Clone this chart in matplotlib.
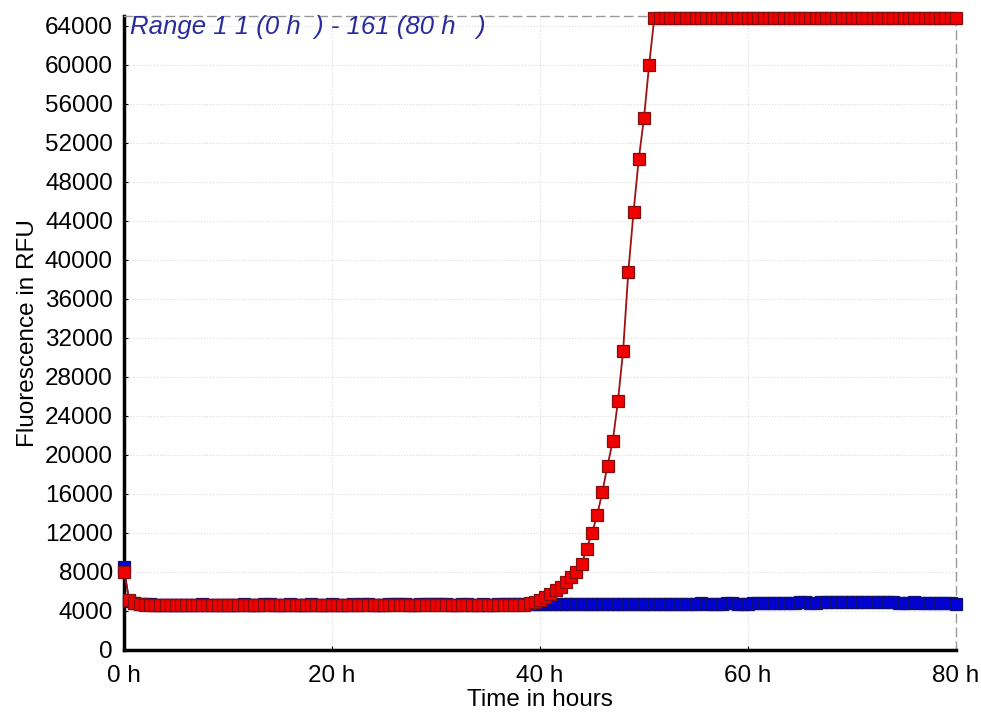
import numpy as np
import matplotlib
matplotlib.use("Agg")
from matplotlib import pyplot as plt

plt.rcParams["font.family"] = ["Liberation Sans", "DejaVu Sans"]

# 161 cycles, one every 0.5 h
cycle = np.arange(161)
time_h = cycle * 0.5

red_rfu = [
    8000, 5100, 4800, 4700, 4620, 4600, 4580, 4590, 4600, 4580,
    4570, 4580, 4600, 4590, 4610, 4600, 4620, 4610, 4600, 4590,
    4580, 4600, 4610, 4620, 4600, 4590, 4610, 4620, 4630, 4610,
    4600, 4620, 4630, 4610, 4600, 4620, 4610, 4600, 4590, 4610,
    4620, 4600, 4590, 4610, 4620, 4600, 4610, 4620, 4600, 4590,
    4600, 4620, 4630, 4640, 4620, 4610, 4600, 4620, 4640, 4630,
    4650, 4640, 4620, 4610, 4600, 4620, 4630, 4610, 4600, 4620,
    4610, 4600, 4620, 4630, 4640, 4620, 4630, 4620, 4780, 4950,
    5150, 5400, 5700, 6100, 6500, 6950, 7450, 8000, 8800, 10400,
    12000, 13800, 16200, 18900, 21400, 25500, 30700, 38800, 44900, 50300,
    54500, 60000, 64800, 64800, 64800, 64800, 64800, 64800, 64800, 64800,
    64800, 64800, 64800, 64800, 64800, 64800, 64800, 64800, 64800, 64800,
    64800, 64800, 64800, 64800, 64800, 64800, 64800, 64800, 64800, 64800,
    64800, 64800, 64800, 64800, 64800, 64800, 64800, 64800, 64800, 64800,
    64800, 64800, 64800, 64800, 64800, 64800, 64800, 64800, 64800, 64800,
    64800, 64800, 64800, 64800, 64800, 64800, 64800, 64800, 64800, 64800,
    64800,
]

blue_rfu = [
    8500, 5000, 4800, 4750, 4700, 4680, 4660, 4650, 4660, 4650,
    4640, 4650, 4660, 4650, 4660, 4670, 4660, 4650, 4660, 4650,
    4640, 4650, 4660, 4670, 4660, 4650, 4660, 4670, 4680, 4660,
    4650, 4660, 4670, 4660, 4650, 4660, 4670, 4660, 4650, 4660,
    4670, 4660, 4650, 4660, 4670, 4660, 4670, 4680, 4660, 4650,
    4660, 4670, 4680, 4690, 4670, 4660, 4650, 4670, 4690, 4680,
    4690, 4680, 4670, 4660, 4650, 4670, 4680, 4660, 4650, 4670,
    4660, 4650, 4670, 4680, 4690, 4670, 4680, 4690, 4700, 4690,
    4700, 4720, 4700, 4710, 4700, 4690, 4700, 4720, 4710, 4700,
    4690, 4700, 4720, 4730, 4710, 4700, 4720, 4740, 4730, 4720,
    4710, 4730, 4750, 4740, 4720, 4730, 4750, 4760, 4740, 4730,
    4750, 4770, 4760, 4750, 4740, 4760, 4780, 4770, 4760, 4750,
    4760, 4780, 4800, 4820, 4800, 4780, 4790, 4810, 4830, 4850,
    4870, 4880, 4860, 4850, 4870, 4900, 4920, 4900, 4880, 4870,
    4880, 4900, 4890, 4870, 4880, 4900, 4910, 4890, 4870, 4860,
    4850, 4860, 4870, 4850, 4830, 4820, 4800, 4790, 4780, 4770,
    4760,
]

x_ticks = [0, 20, 40, 60, 80]
x_labels = ["0 h", "20 h", "40 h", "60 h", "80 h"]
y_ticks = list(range(0, 64001, 4000))

fig = plt.figure(figsize=(9.81, 7.13), dpi=100)
ax = fig.add_axes([0.1264, 0.0884, 0.848, 0.8892])

ax.plot(time_h, blue_rfu, color="#0a0a8c", lw=1.2, marker="s", ms=8,
        mfc="#0000d8", mec="#101070", mew=0.9, clip_on=False, zorder=3)
ax.plot(time_h, red_rfu, color="#a01010", lw=1.3, marker="s", ms=8,
        mfc="#f00000", mec="#801010", mew=0.9, clip_on=False, zorder=4)

ax.set_xlim(0, 80)
ax.set_ylim(0, 65000)
ax.set_xticks(x_ticks)
ax.set_xticklabels(x_labels)
ax.set_yticks(y_ticks)
ax.tick_params(labelsize=17.5, length=3, direction="in")
ax.tick_params(axis="y", pad=8)
ax.tick_params(axis="x", pad=11)

ax.grid(True, color="#dcdcdc", lw=0.8, ls=":")
ax.set_axisbelow(True)

for s in ("left", "bottom"):
    ax.spines[s].set_linewidth(2.5)
    ax.spines[s].set_color("black")
for s in ("top", "right"):
    ax.spines[s].set_linestyle((0, (6, 4)))
    ax.spines[s].set_color("#999999")
    ax.spines[s].set_linewidth(1.0)

ax.set_xlabel("Time in hours", fontsize=17.5, labelpad=1)
ax.set_ylabel("Fluorescence in RFU", fontsize=17.5, labelpad=4)

ax.text(0.007, 0.982, "Range 1 1 (0 h  ) - 161 (80 h   )", transform=ax.transAxes,
        ha="left", va="center", fontsize=18.5, style="italic", color="#2a2aa0")

fig.savefig("out.png", dpi=100)
